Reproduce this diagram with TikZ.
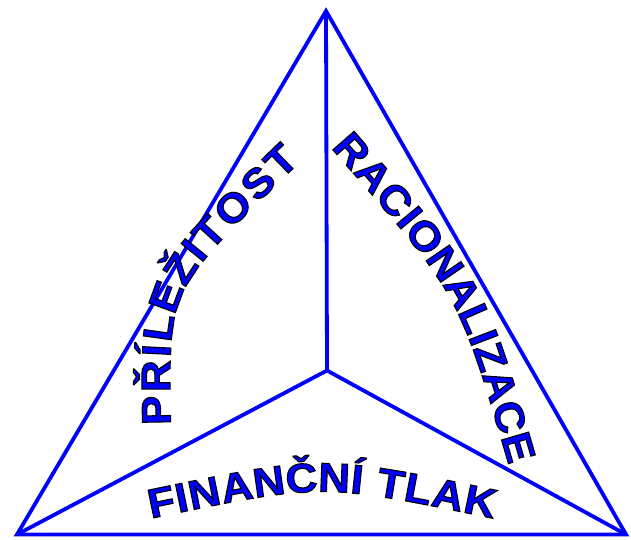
\documentclass[tikz,border=0pt]{standalone}
\usepackage{fontspec}
\newfontfamily\wafont{Liberation Sans}[FakeStretch=1.07]
\usetikzlibrary{decorations.text}
\newcommand\outlinetext{\special{pdf:literal direct 0 0 0 RG 2 Tr 1.1 w}}
\newcommand\wordartfmt{\wafont\bfseries\fontsize{41}{43}\selectfont\color{blue}\outlinetext}
\tikzset{
  edge/.style={draw=blue, line width=3.8pt, line join=miter},
  arch/.style={decorate, decoration={text along path, text align=fit to path, raise=-14.7pt, text={|\wordartfmt|#1}}}
}
\begin{document}
\begin{tikzpicture}[x=1pt,y=1pt]
\useasboundingbox (0,0) rectangle (631,539);
\coordinate (top) at (326,528);
\coordinate (bl) at (17,4.5);
\coordinate (br) at (626,4.5);
\coordinate (ctr) at (327,168.5);
\draw[edge] (bl) -- (top) -- (br) -- cycle;
\draw[edge] (ctr) -- (top);
\draw[edge] (ctr) -- (bl);
\draw[edge] (ctr) -- (br);
% text paths
\coordinate (p0) at (156,114);
\coordinate (pc) at (153.5,256);
\coordinate (p2) at (290,388);
\coordinate (r0) at (342,401);
\coordinate (rc) at (472,252.5);
\coordinate (r2) at (523,78);
\coordinate (f0) at (148,35);
\coordinate (fc) at (322,71);
\coordinate (f2) at (496,35);
\path[arch={PŘÍLEŽITOST}] (p0) .. controls (pc) .. (p2);
\path[arch={RACIONALIZACE}] (r0) .. controls (rc) .. (r2);
\path[arch={FINANČNÍ TLAK}] (f0) .. controls (fc) .. (f2);
\end{tikzpicture}
\end{document}
